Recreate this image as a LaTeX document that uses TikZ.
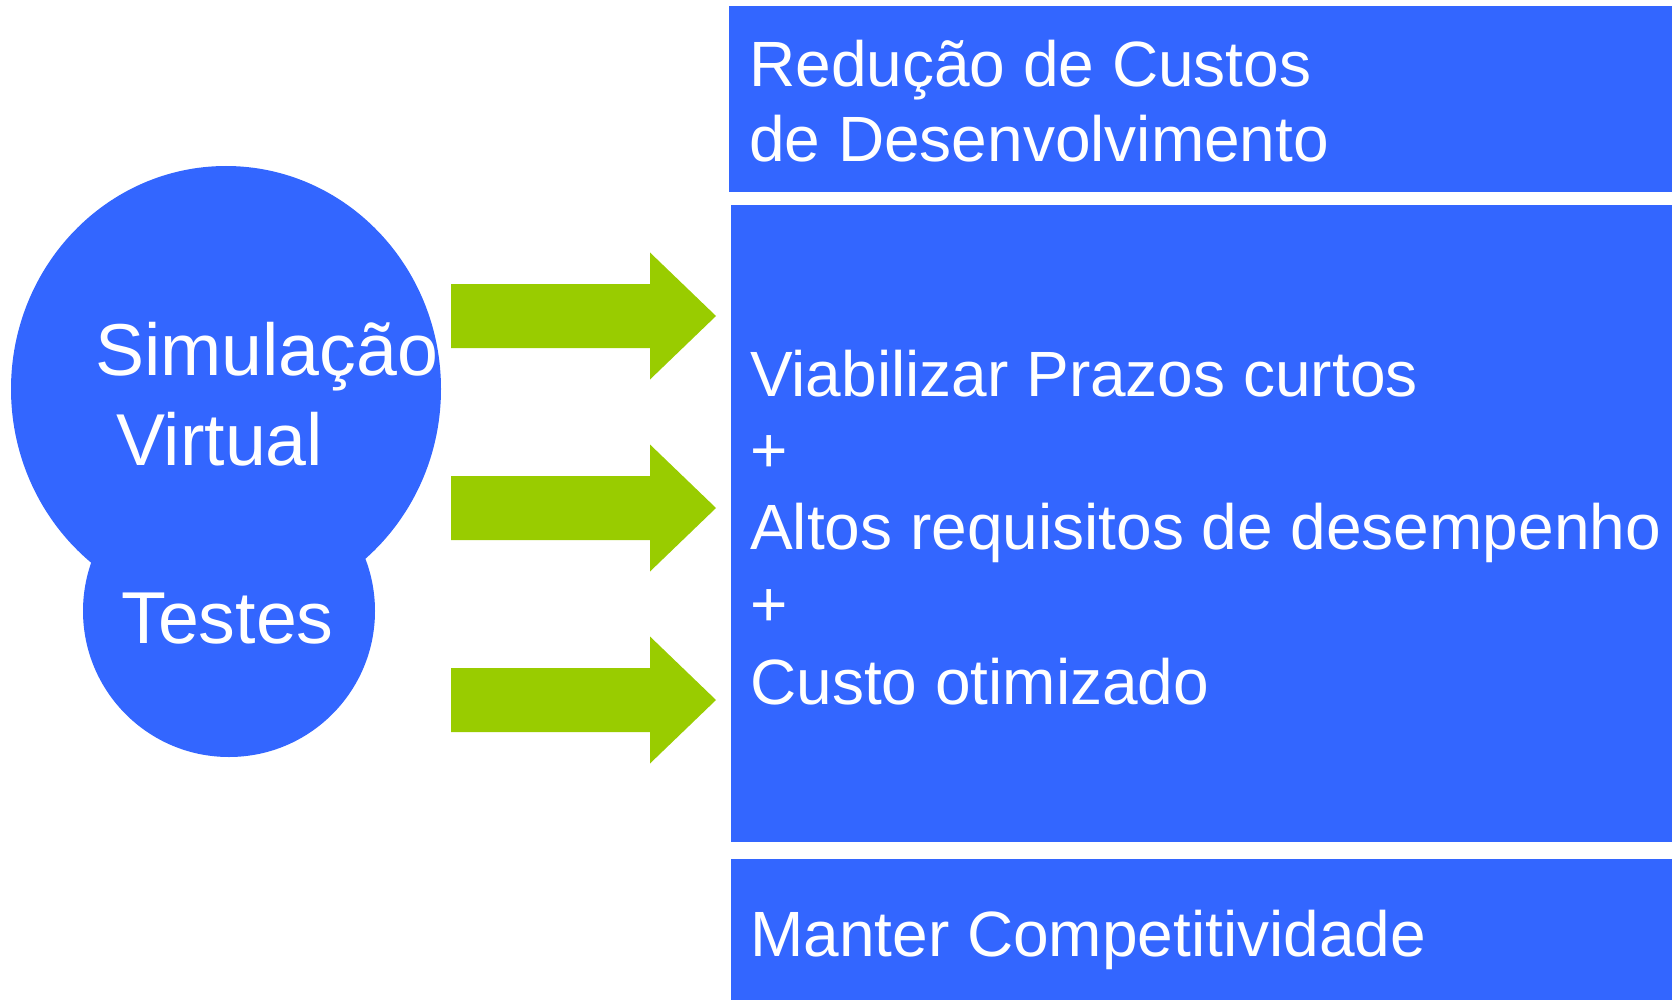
\documentclass[tikz,border=0pt]{standalone}
\usepackage{fontspec}
\setmainfont{Liberation Sans}
\usetikzlibrary{shapes.geometric}
\definecolor{boxblue}{HTML}{3366FF}
\definecolor{arrowgreen}{HTML}{99CC00}
\begin{document}
\begin{tikzpicture}[x=1pt,y=-1pt,
  blob/.style={fill=boxblue,draw=none,inner sep=0pt},
  panel/.style={fill=boxblue,draw=none,inner sep=0pt,anchor=north west},
  txt/.style={text=white,anchor=base west,inner sep=0pt,font=\fontsize{64}{77}\selectfont},
  bigtxt/.style={text=white,anchor=base west,inner sep=0pt,font=\fontsize{73.5}{86}\selectfont},
  blockarrow/.style={fill=arrowgreen,draw=none}]
\useasboundingbox (0,0) rectangle (1672,1000);
% circles
\node[blob,ellipse,minimum width=430pt,minimum height=446pt] (sim) at (226,389) {};
\node[blob,circle,minimum size=292pt] (test) at (229,611) {};
\node[bigtxt] (simA) at (95,375) {Simulação};
\node[bigtxt] (simB) at (116,465) {Virtual};
\node[bigtxt] (testA) at (121,643) {Testes};
% panels
\node[panel,minimum width=943pt,minimum height=186pt] (cost) at (729,6) {};
\node[panel,minimum width=941pt,minimum height=637pt] (goals) at (731,205) {};
\node[panel,minimum width=941pt,minimum height=141pt] (comp) at (731,859) {};
% panel texts
\node[txt] (c1) at (749,87) {Redução de Custos};
\node[txt] (c2) at (749,162) {de Desenvolvimento};
\node[txt] (g1) at (750,396) {Viabilizar Prazos curtos};
\node[txt] (g2) at (750,472) {+};
\node[txt] (g3) at (750,549) {Altos requisitos de desempenho};
\node[txt] (g4) at (750,626) {+};
\node[txt] (g5) at (750,704) {Custo otimizado};
\node[txt] (m1) at (750,956) {Manter Competitividade};
% block arrows
\foreach \yy in {316,508,700}{
  \fill[blockarrow] (451,\yy-32) -- (650,\yy-32) -- (650,\yy-63.5) -- (716,\yy)
    -- (650,\yy+63.5) -- (650,\yy+32) -- (451,\yy+32) -- cycle;
}
\end{tikzpicture}
\end{document}
